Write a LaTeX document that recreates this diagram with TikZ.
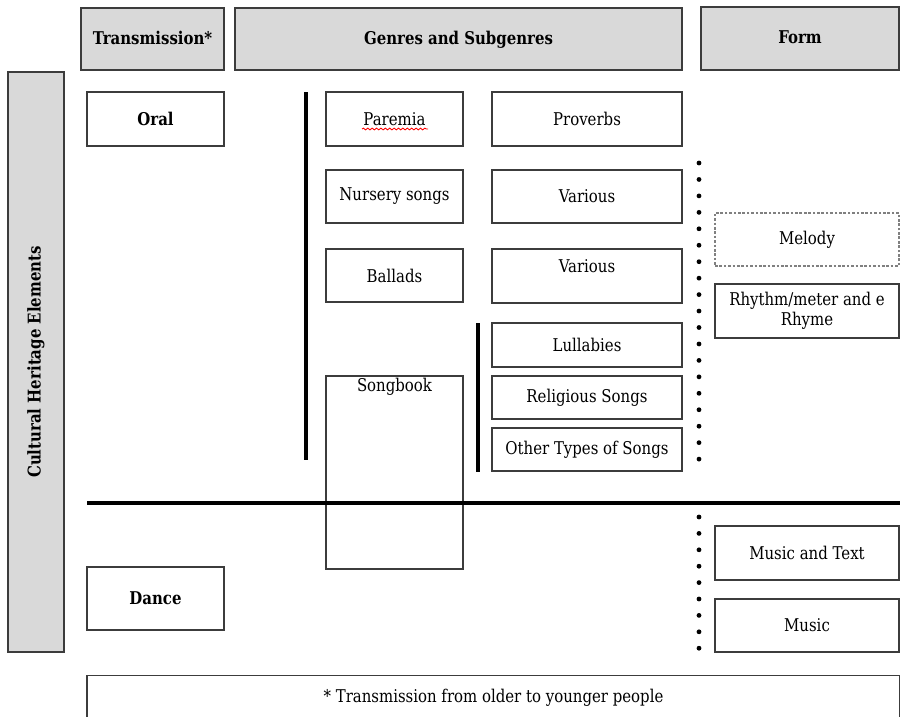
\documentclass[tikz,border=0pt]{standalone}
\usepackage{fontspec}
\setmainfont{DejaVu Serif}[FakeStretch=0.85]
\usetikzlibrary{decorations.pathmorphing}
\definecolor{hdrgray}{RGB}{217,217,217}
\definecolor{edgegray}{RGB}{60,60,60}
\newcommand{\txtsize}{\fontsize{10}{12}\selectfont}

\begin{document}
\begin{tikzpicture}[x=0.02cm,y=-0.02cm,
    box/.style={draw=edgegray,line width=0.85pt,fill=white,inner sep=2pt,align=center,font=\txtsize},
    hdr/.style={box,fill=hdrgray,font=\txtsize\bfseries,text height=1.5ex,text depth=0.3ex},
    wide/.style={minimum width=3.8cm},
    narrow/.style={minimum width=2.74cm},
    form/.style={minimum width=3.68cm},
    bar/.style={line width=2pt},
    dot/.style={fill=black}]
    \useasboundingbox (0,0) rectangle (900,717);

    % headers
    \node[hdr,minimum width=2.86cm,minimum height=1.24cm] (trans) at (152.5,39) {Transmission*};
    \node[hdr,minimum width=8.94cm,minimum height=1.24cm] (genres) at (458.5,39) {Genres and Subgenres};
    \node[hdr,minimum width=3.96cm,minimum height=1.26cm] (form) at (800,38.5) {Form};
    \node[box,fill=hdrgray,minimum width=1.12cm,minimum height=11.6cm] (side) at (36,362) {};
    \node[font=\txtsize\bfseries,rotate=90] (sidetxt) at (side.center) {Cultural Heritage Elements};

    % transmission
    \node[box,narrow,minimum height=1.08cm,font=\txtsize\bfseries] (oral) at (155.5,119) {Oral};
    \node[box,narrow,minimum height=1.26cm,font=\txtsize\bfseries] (dance) at (155.5,598.5) {Dance};

    % genres
    \node[box,narrow,minimum height=1.08cm] (paremia) at (394.5,119) {Paremia};
    \node[box,narrow,minimum height=1.06cm] (nursery) at (394.5,196.5) {Nursery songs};
    \node[box,narrow,minimum height=1.06cm] (ballads) at (394.5,275.5) {Ballads};
    \node[box,narrow,minimum height=3.86cm,
        label={[font=\txtsize,anchor=north,inner sep=1.5pt]north:Songbook}] (songbook) at (394.5,472.5) {};

    % subgenres
    \node[box,wide,minimum height=1.08cm] (proverbs) at (587,119) {Proverbs};
    \node[box,wide,minimum height=1.06cm] (various) at (587,196.5) {Various};
    \node[box,wide,minimum height=1.08cm,
        label={[font=\txtsize,anchor=north,inner sep=6pt]north:Various}] (variousb) at (587,276) {};
    \node[box,wide,minimum height=0.88cm] (lullabies) at (587,345) {Lullabies};
    \node[box,wide,minimum height=0.86cm] (religious) at (587,397.5) {Religious Songs};
    \node[box,wide,minimum height=0.86cm] (othertypes) at (587,449.5) {Other Types of Songs};

    % form
    \node[box,form,minimum height=1.06cm,draw=gray,dash pattern=on 1.5pt off 1pt] (melody) at (807,239.5) {Melody};
    \node[box,form,minimum height=1.08cm,inner sep=1pt] (rhythm) at (807,311) {Rhythm/meter and e\\[-0.5pt]Rhyme};
    \node[box,form,minimum height=1.08cm] (musictext) at (807,553) {Music and Text};
    \node[box,form,minimum height=1.06cm] (music) at (807,625.5) {Music};

    % footnote
    \node[box,minimum width=16.26cm,minimum height=0.9cm] (note) at (493.5,698) {* Transmission from older to younger people};

    % spell check mark
    \draw[red,line width=0.5pt,decorate,decoration={snake,amplitude=0.5pt,segment length=2.5pt}] (362,129) -- (428,129);

    % separators
    \draw[bar] (306,92) -- (306,460);
    \draw[bar] (478,323) -- (478,472);
    \draw[bar] (87,503) -- (900,503);
    \foreach \y in {0,...,18}
        \fill[dot] (699,163+16.45*\y) circle (2.4);
    \foreach \y in {0,...,8}
        \fill[dot] (699,517+16.4*\y) circle (2.4);

\end{tikzpicture}
\end{document}
